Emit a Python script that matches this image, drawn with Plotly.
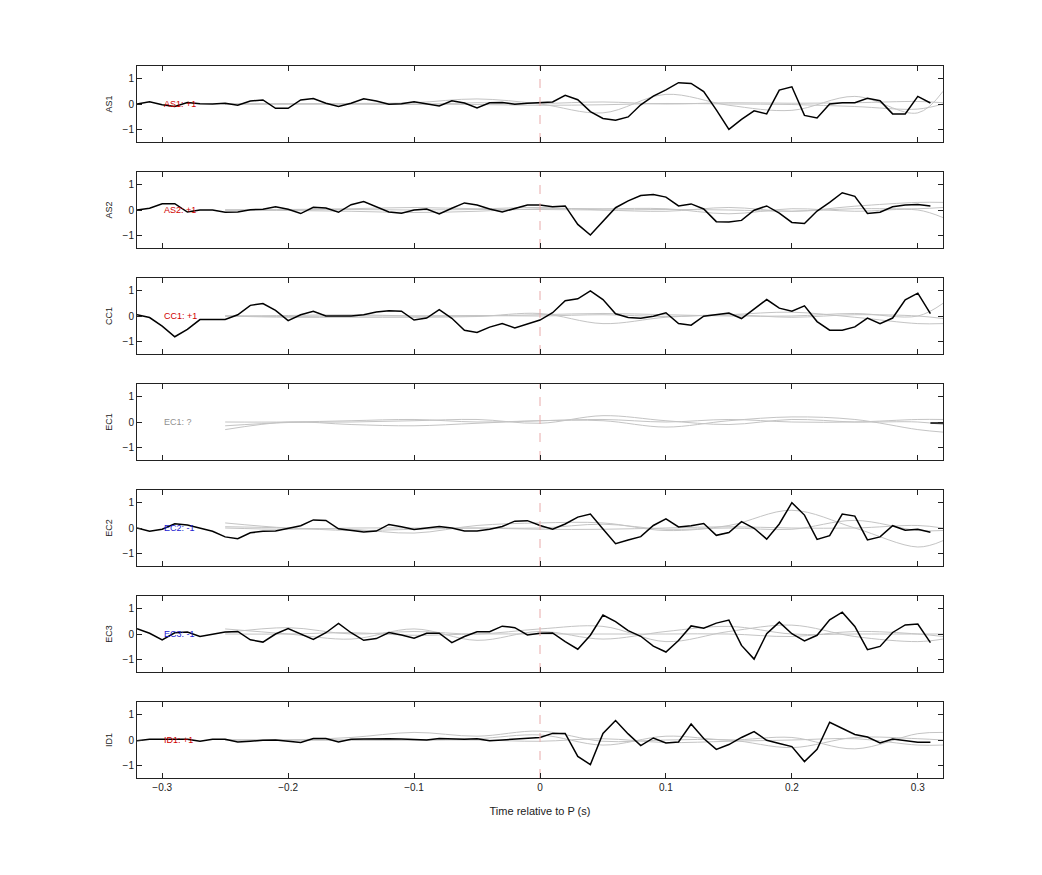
import plotly.graph_objects as go

t_pre = [round(-0.32 + 0.01 * i, 2) for i in range(33)]   # -0.32 .. 0.00
t_post = [round(0.01 * i, 2) for i in range(32)]          # 0.00 .. 0.31

stations = ["AS1", "AS2", "CC1", "EC1", "EC2", "EC3", "ID1"]
labels = ["AS1: +1", "AS2: +1", "CC1: +1", "EC1: ?", "EC2: -1", "EC3: -1", "ID1: +1"]
label_colors = ["#d00000", "#d00000", "#d00000", "#909090", "#2020d0", "#2020d0", "#d00000"]

as1_pre = [0, 0.09, -0.03, -0.1, 0.06, 0.01, 0, 0.03, -0.05, 0.12, 0.16, -0.17, -0.17, 0.16, 0.22, 0.03, -0.1,
           0.03, 0.21, 0.12, -0.01, 0.01, 0.09, 0, -0.08, 0.13, 0.04, -0.16, 0.05, 0.06, -0.01, 0.03, 0.06]
as1_post = [0.06, 0.08, 0.34, 0.17, -0.3, -0.57, -0.64, -0.51, -0.03, 0.31, 0.56, 0.84, 0.81, 0.49, -0.23, -1.0,
            -0.61, -0.27, -0.39, 0.55, 0.68, -0.45, -0.55, 0, 0.05, 0.05, 0.23, 0.13, -0.39, -0.39, 0.3, 0.04]
as2_pre = [0, 0.07, 0.25, 0.25, -0.08, 0, 0, -0.09, -0.08, 0.01, 0.03, 0.13, 0.03, -0.14, 0.11, 0.08, -0.09,
           0.21, 0.33, 0.11, -0.08, -0.13, 0, 0.04, -0.16, 0.07, 0.28, 0.2, 0.04, -0.08, 0.05, 0.2, 0.2]
as2_post = [0.16, 0.13, 0.16, -0.57, -0.99, -0.43, 0.09, 0.36, 0.57, 0.61, 0.51, 0.16, 0.24, 0.04, -0.46, -0.47,
            -0.41, -0.01, 0.16, -0.12, -0.49, -0.53, -0.04, 0.3, 0.68, 0.54, -0.14, -0.09, 0.13, 0.2, 0.22, 0.16]
cc1_pre = [0.05, -0.06, -0.4, -0.82, -0.53, -0.14, -0.14, -0.14, 0.05, 0.42, 0.49, 0.22, -0.18, 0.05, 0.19, 0, 0,
           0, 0.05, 0.16, 0.21, 0.19, -0.16, -0.08, 0.25, -0.09, -0.56, -0.65, -0.44, -0.3, -0.47, -0.31, -0.16]
cc1_post = [-0.16, 0.13, 0.6, 0.68, 0.99, 0.65, 0.09, -0.06, -0.09, -0.01, 0.13, -0.3, -0.36, -0.01, 0.06, 0.12,
            -0.1, 0.26, 0.65, 0.31, 0.19, 0.4, -0.22, -0.56, -0.56, -0.43, -0.08, -0.3, -0.08, 0.64, 0.9, 0.09]
ec2_pre = [0, -0.13, -0.05, 0.17, 0.12, 0, -0.13, -0.35, -0.42, -0.19, -0.13, -0.12, -0.01, 0.09, 0.32, 0.3, -0.03,
           -0.09, -0.16, -0.12, 0.14, 0.05, -0.06, 0, 0.06, 0, -0.12, -0.12, -0.05, 0.06, 0.27, 0.29, 0.1]
ec2_post = [0.1, -0.05, 0.16, 0.43, 0.55, -0.04, -0.62, -0.47, -0.34, 0.1, 0.36, 0.04, 0.09, 0.18, -0.29, -0.18,
            0.25, -0.01, -0.44, 0.16, 1.0, 0.51, -0.45, -0.3, 0.55, 0.47, -0.47, -0.35, 0.09, -0.09, -0.05, -0.17]
ec3_pre = [0.21, 0.03, -0.23, 0.05, 0.08, -0.1, -0.01, 0.08, 0.1, -0.23, -0.32, 0, 0.21, 0, -0.21, 0.05, 0.42,
           0.05, -0.25, -0.18, 0.06, -0.04, -0.17, 0.03, 0.03, -0.34, -0.1, 0.09, 0.09, 0.31, 0.25, -0.04, 0.03]
ec3_post = [0.04, 0.04, -0.3, -0.6, -0.05, 0.75, 0.49, 0.13, -0.09, -0.48, -0.71, -0.26, 0.32, 0.23, 0.43, 0.55,
            -0.45, -0.99, 0.01, 0.47, 0.01, -0.27, -0.05, 0.56, 0.86, 0.3, -0.62, -0.49, 0.06, 0.36, 0.39, -0.34]
id1_pre = [-0.03, 0.03, 0.03, 0.03, 0.03, -0.05, 0.03, 0.03, -0.08, -0.05, -0.01, 0, -0.04, -0.1, 0.06, 0.06, -0.08,
           0.03, 0.04, 0.05, 0.05, 0.04, 0.01, 0, 0.06, 0.04, 0.03, 0.05, -0.03, 0, 0.04, 0.05, 0.1]
id1_post = [0.1, 0.26, 0.26, -0.65, -0.97, 0.26, 0.77, 0.24, -0.22, 0.08, -0.12, -0.08, 0.63, 0.06, -0.37, -0.18,
            0.1, 0.33, -0.01, -0.14, -0.26, -0.85, -0.37, 0.7, 0.46, 0.22, 0.12, -0.12, 0.04, -0.04, -0.09, -0.09]
ec1_t = [0.31, 0.32]
ec1_v = [-0.04, -0.04]

black = [(t_pre + t_post[1:], as1_pre + as1_post[1:]),
         (t_pre + t_post[1:], as2_pre + as2_post[1:]),
         (t_pre + t_post[1:], cc1_pre + cc1_post[1:]),
         (ec1_t, ec1_v),
         (t_pre + t_post[1:], ec2_pre + ec2_post[1:]),
         (t_pre + t_post[1:], ec3_pre + ec3_post[1:]),
         (t_pre + t_post[1:], id1_pre + id1_post[1:])]

# synthetic-comparison traces (gray), control values at these times
gt = [-0.25, -0.2, -0.15, -0.1, -0.05, 0, 0.05, 0.1, 0.15, 0.2, 0.25, 0.3, 0.32]
gray = [
    [[0, 0, 0.02, 0.05, 0.2, 0.0, -0.35, 0.38, -0.05, -0.25, 0.3, -0.35, 0.5],
     [0, 0, 0, -0.02, 0.05, 0.02, 0.08, 0.0, 0.05, 0.03, 0.05, 0.1, 0.05],
     [0, 0.01, 0, 0, -0.02, -0.05, -0.03, 0.02, 0.0, -0.02, -0.1, -0.2, 0.0]],
    [[0, 0.02, 0.05, 0.1, 0.05, 0.1, 0.0, -0.05, 0.1, -0.05, 0.15, 0.3, 0.3],
     [0, -0.02, -0.05, -0.1, -0.05, 0.05, 0.05, 0.05, -0.15, 0.05, -0.05, 0.0, -0.3],
     [0, 0, 0.02, 0, 0.02, 0.02, 0.0, 0.02, 0.0, -0.05, 0.05, 0.05, 0.1]],
    [[0, 0.02, 0.05, 0.0, 0.0, 0.05, 0.1, 0.05, 0.0, 0.0, 0.1, 0.0, 0.5],
     [0, -0.05, -0.05, -0.05, -0.02, 0.1, -0.3, -0.05, 0.05, 0.15, -0.05, -0.3, -0.3],
     [0, -0.02, 0, 0.0, 0.02, 0.0, 0.05, -0.02, 0.05, -0.05, 0.05, 0.0, -0.1]],
    [[-0.15, -0.02, 0.0, 0.05, 0.1, -0.05, 0.25, 0.05, -0.1, 0.1, 0.0, 0.0, -0.1],
     [-0.3, 0.0, -0.1, -0.15, -0.05, 0.05, 0.05, -0.2, 0.05, 0.2, 0.1, -0.3, -0.4],
     [0, 0.0, 0.05, 0.1, 0.0, 0.05, 0.1, 0.0, 0.1, 0.0, 0.0, 0.1, 0.1]],
    [[0.2, 0.0, -0.05, -0.2, 0.1, 0.2, 0.2, -0.1, 0.1, 0.7, 0.0, -0.75, -0.5],
     [0.05, 0.0, -0.1, -0.05, 0.0, 0.0, 0.15, -0.05, 0.0, -0.05, 0.3, -0.1, -0.1],
     [0.0, -0.05, 0.0, 0.0, 0.0, -0.05, -0.05, 0.0, 0.05, 0.0, 0.0, 0.1, 0.0]],
    [[0.05, 0.25, 0.0, 0.1, 0.0, 0.2, 0.3, -0.3, 0.1, 0.35, -0.1, -0.3, -0.2],
     [0.2, 0.0, -0.2, 0.2, -0.25, 0.1, -0.2, 0.1, 0.3, 0.0, 0.0, 0.0, 0.0],
     [0.0, 0.0, 0.05, -0.05, 0.0, 0.0, 0.0, 0.0, 0.0, -0.1, 0.1, 0.0, -0.1]],
    [[0, 0.0, 0.1, 0.3, 0.15, 0.35, -0.05, 0.0, 0.0, -0.3, 0.1, 0.05, 0.0],
     [0, 0.0, 0.0, 0.0, 0.05, 0.2, -0.2, 0.15, 0.0, 0.1, -0.35, 0.25, 0.3],
     [0, 0.0, 0.0, 0.0, 0.0, -0.05, 0.05, -0.1, -0.05, 0.0, 0.05, -0.2, -0.2]],
]

W, H = 1042, 875
off = 8  # page body margin
x0, x1 = 137 - off, 943 - off
panel_tops = [66, 172, 278, 384, 490, 596, 702]
panel_h = 76

fig = go.Figure()
font = "Liberation Sans, Arial, sans-serif"
for i in range(7):
    ax = "" if i == 0 else str(i + 1)
    xr, yr = "x" + ax, "y" + ax
    for g in gray[i]:
        fig.add_trace(go.Scatter(x=gt, y=g, mode="lines", line=dict(color="#c4c4c4", width=1, shape="spline"),
                                 xaxis=xr, yaxis=yr, showlegend=False, hoverinfo="skip"))
    bx, by = black[i]
    fig.add_trace(go.Scatter(x=bx, y=by, mode="lines", line=dict(color="black", width=1.5),
                             xaxis=xr, yaxis=yr, showlegend=False))
    fig.add_trace(go.Scatter(x=[0, 0], y=[-1.5, 1.5], mode="lines",
                             line=dict(color="#e8aaaa", width=1, dash="dash"),
                             xaxis=xr, yaxis=yr, showlegend=False, hoverinfo="skip"))
    fig.add_annotation(x=-0.3, y=0, xref=xr, yref=yr, text=labels[i], showarrow=False, xanchor="left",
                       font=dict(size=9, color=label_colors[i], family=font))
    top, bot = panel_tops[i] - off, panel_tops[i] + panel_h - off
    fig.layout["xaxis" + ax] = dict(domain=[x0 / W, x1 / W], range=[-0.32, 0.32], anchor=yr,
                                     showline=True, mirror="ticks", linecolor="#222", linewidth=1,
                                     ticks="inside", ticklen=5, tickcolor="#222",
                                     tickvals=[-0.3, -0.2, -0.1, 0, 0.1, 0.2, 0.3],
                                     showticklabels=(i == 6), showgrid=False, zeroline=False,
                                     tickfont=dict(size=10, family=font, color="#222"))
    fig.layout["yaxis" + ax] = dict(domain=[1 - bot / H, 1 - top / H], range=[-1.5, 1.5], anchor=xr,
                                     showline=True, mirror="ticks", linecolor="#222", linewidth=1,
                                     ticks="inside", ticklen=5, tickcolor="#222", tickvals=[-1, 0, 1],
                                     showgrid=False, zeroline=False, title=dict(text=stations[i], standoff=8,
                                     font=dict(size=9, family=font, color="#222")),
                                     tickfont=dict(size=10, family=font, color="#222"))

fig.layout["xaxis7"]["title"] = dict(text="Time relative to P (s)", font=dict(size=11, family=font, color="#222"))
fig.update_layout(width=W, height=H, margin=dict(l=0, r=0, t=0, b=0),
                  plot_bgcolor="white", paper_bgcolor="white", showlegend=False)
fig.write_html("out.html")
